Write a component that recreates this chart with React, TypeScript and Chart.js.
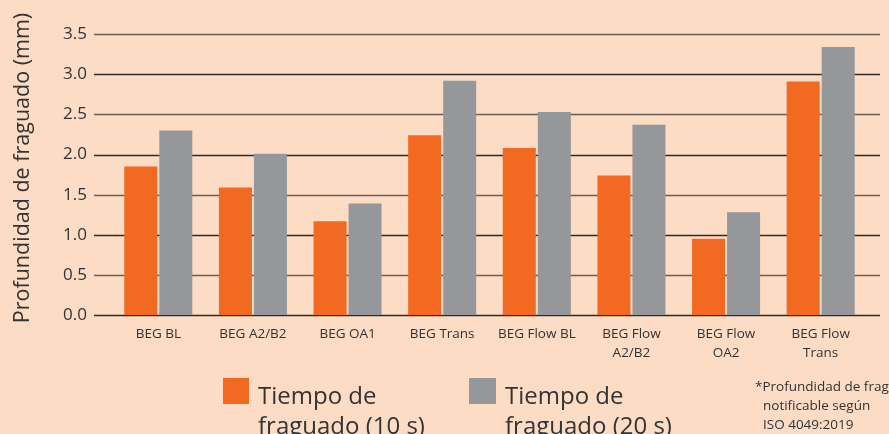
import React, { useEffect, useRef } from "react";
import { Chart, registerables } from "chart.js";
Chart.register(...registerables);

const categories: (string | string[])[] = [
  "BEG BL",
  "BEG A2/B2",
  "BEG OA1",
  "BEG Trans",
  "BEG Flow BL",
  ["BEG Flow", "A2/B2"],
  ["BEG Flow", "OA2"],
  ["BEG Flow", "Trans"],
];
const series10s = [1.85, 1.59, 1.17, 2.24, 2.08, 1.74, 0.95, 2.91];
const series20s = [2.3, 2.01, 1.39, 2.92, 2.53, 2.37, 1.28, 3.34];
const yTicks = [0, 0.5, 1, 1.5, 2, 2.5, 3, 3.5];
const yTitle = "Profundidad de fraguado (mm)";

const ORANGE = "#F26922";
const GRAY = "#96979B";
const BG = "#FDDCC6";
const FONT = "'Open Sans', 'Noto Sans', sans-serif";

const PLOT_TOP = 31;
const PLOT_BOTTOM = 315;

const gridPlugin = {
  id: "extGrid",
  beforeDatasetsDraw(chart: any) {
    const { ctx, scales } = chart;
    const y = scales.y;
    ctx.save();
    yTicks.forEach((v, i) => {
      const py = Math.round(y.getPixelForValue(v)) + 0.5;
      ctx.strokeStyle = i % 2 === 0 ? "#2f2a28" : "#6b5d55";
      ctx.lineWidth = 1.6;
      ctx.beginPath();
      ctx.moveTo(94, py);
      ctx.lineTo(880, py);
      ctx.stroke();
    });
    ctx.restore();
  },
  afterDraw(chart: any) {
    const { ctx } = chart;
    ctx.save();
    ctx.translate(29, 168);
    ctx.rotate(-Math.PI / 2);
    ctx.font = `21.5px ${FONT}`;
    ctx.fillStyle = "#333";
    ctx.textAlign = "center";
    ctx.textBaseline = "alphabetic";
    ctx.fillText(yTitle, 0, 0);
    ctx.restore();
  },
};

export default function App() {
  const ref = useRef<HTMLCanvasElement>(null);
  useEffect(() => {
    document.body.style.margin = "0";
    const chart = new Chart(ref.current!, {
      type: "bar",
      data: {
        labels: categories,
        datasets: [
          {
            label: "Tiempo de fraguado (10 s)",
            data: series10s,
            backgroundColor: ORANGE,
            categoryPercentage: 0.74,
            barPercentage: 0.943,
          },
          {
            label: "Tiempo de fraguado (20 s)",
            data: series20s,
            backgroundColor: GRAY,
            categoryPercentage: 0.74,
            barPercentage: 0.943,
          },
        ],
      },
      options: {
        animation: false,
        responsive: false,
        maintainAspectRatio: false,
        layout: { padding: { left: 0, right: 21, top: PLOT_TOP, bottom: 0 } },
        plugins: { legend: { display: false }, tooltip: { enabled: false } },
        scales: {
          x: {
            grid: { display: false, drawTicks: false },
            border: { display: false },
            ticks: {
              color: "#333",
              font: { family: FONT, size: 13.5, lineHeight: 1.41 },
              padding: 10,
              maxRotation: 0,
              autoSkip: false,
            },
            afterFit: (s: any) => {
              s.height = 434 - PLOT_BOTTOM;
            },
          },
          y: {
            min: 0,
            max: 3.5,
            afterBuildTicks: (s: any) => {
              s.ticks = yTicks.map((v) => ({ value: v }));
            },
            grid: { display: false, drawTicks: false },
            border: { display: false },
            ticks: {
              color: "#333",
              font: { family: FONT, size: 17 },
              padding: 24,
              callback: (v: any) => Number(v).toFixed(1),
            },
            afterFit: (s: any) => {
              s.width = 111;
            },
          },
        },
      },
      plugins: [gridPlugin],
    });
    return () => chart.destroy();
  }, []);

  const legendText: React.CSSProperties = {
    position: "absolute",
    fontFamily: FONT,
    fontSize: 24,
    lineHeight: "30px",
    color: "#333",
    whiteSpace: "nowrap",
  };
  const note: React.CSSProperties = {
    position: "absolute",
    fontFamily: FONT,
    fontSize: 13.5,
    lineHeight: "19px",
    color: "#333",
    whiteSpace: "nowrap",
  };

  return (
    <div
      style={{
        position: "relative",
        width: 889,
        height: 434,
        background: BG,
        overflow: "hidden",
      }}
    >
      <canvas ref={ref} width={889} height={434} style={{ position: "absolute", left: 0, top: 0, width: 889, height: 434 }} />
      <div style={{ position: "absolute", left: 223, top: 378, width: 26, height: 26, background: ORANGE }} />
      <div style={{ ...legendText, left: 258, top: 380 }}>
        Tiempo de
        <br />
        fraguado (10 s)
      </div>
      <div style={{ position: "absolute", left: 469, top: 378, width: 27, height: 26, background: GRAY }} />
      <div style={{ ...legendText, left: 505, top: 380 }}>
        Tiempo de
        <br />
        fraguado (20 s)
      </div>
      <div style={{ ...note, left: 755, top: 377 }}>*Profundidad de fraguado</div>
      <div style={{ ...note, left: 763, top: 396 }}>notificable según</div>
      <div style={{ ...note, left: 763, top: 415 }}>ISO 4049:2019</div>
    </div>
  );
}
